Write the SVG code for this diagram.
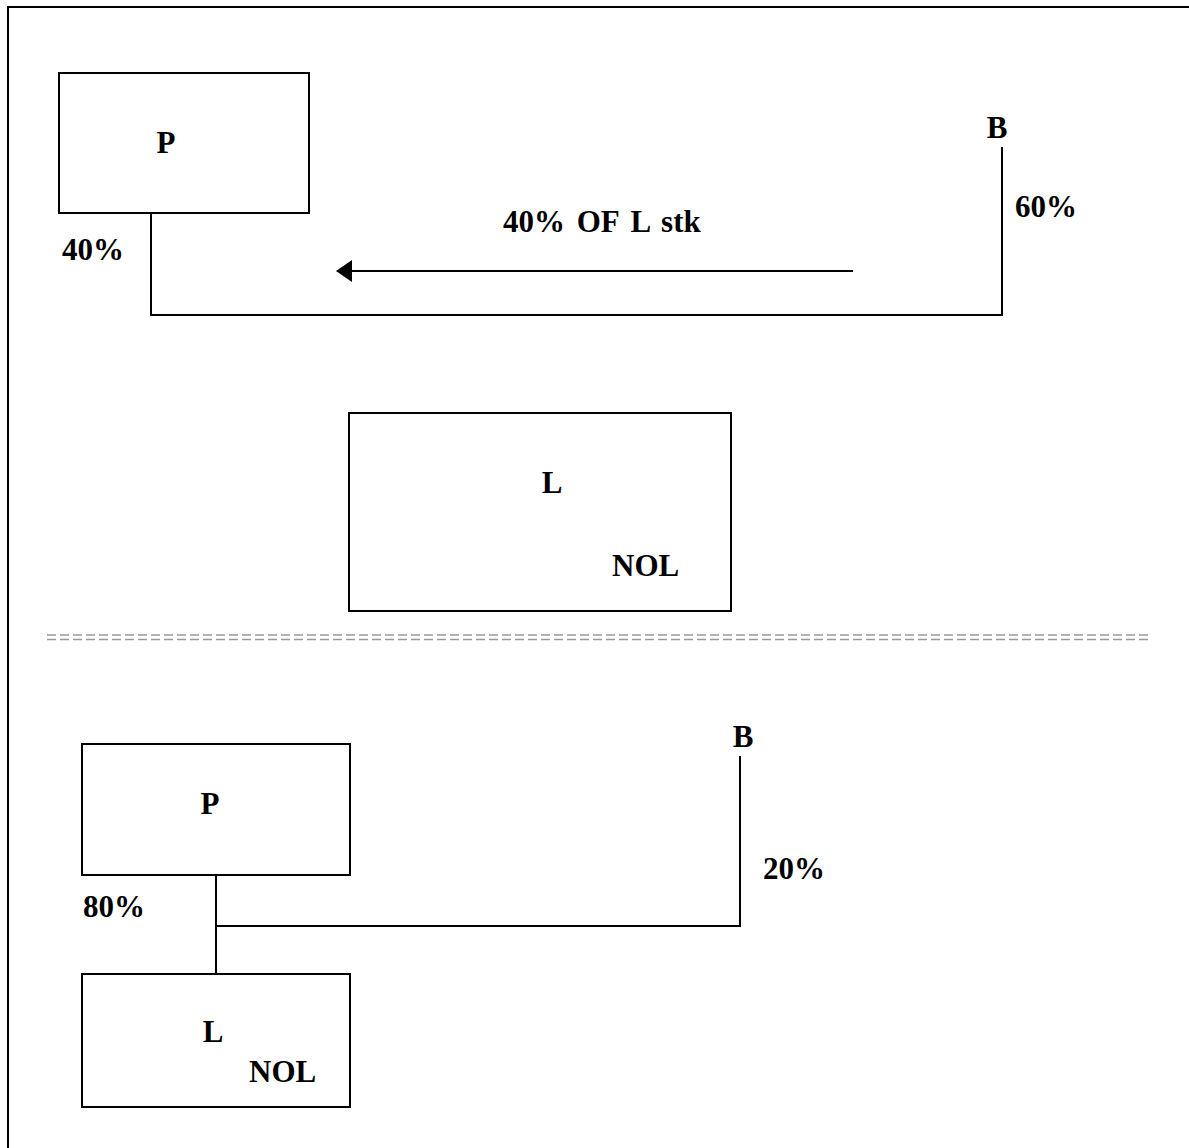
<svg xmlns="http://www.w3.org/2000/svg" width="1189" height="1148" viewBox="0 0 1189 1148">
<defs>
<style>
.box{fill:#fff;stroke:#000;stroke-width:2}
.ln{fill:none;stroke:#000;stroke-width:2}
.t{font-family:"Liberation Serif","Times New Roman",serif;font-weight:bold;font-size:31px;fill:#000}
.sep{stroke:#999;stroke-width:1.6;stroke-dasharray:9 4}
</style>
<marker id="ah" viewBox="0 0 16 22" markerWidth="16" markerHeight="22" refX="15" refY="11" orient="auto" markerUnits="userSpaceOnUse">
<path d="M16,11 L0,0 L0,22 Z" fill="#000"/>
</marker>
</defs>
<rect width="1189" height="1148" fill="#fff"/>
<path d="M8,1148 L8,7 L1189,7" fill="none" stroke="#000" stroke-width="2"/>

<g id="connectors">
<path class="ln" d="M151,213 L151,315 L1002,315 L1002,147"/>
<line class="ln" x1="853" y1="271" x2="337" y2="271" marker-end="url(#ah)"/>
<path class="ln" d="M216,875 L216,974"/>
<path class="ln" d="M216,926 L740,926 L740,756"/>
</g>

<g id="separator">
<line class="sep" x1="47" y1="635" x2="1152" y2="635"/>
<line class="sep" x1="47" y1="639.5" x2="1152" y2="639.5"/>
</g>

<g id="P1">
<rect class="box" x="59" y="73" width="250" height="140"/>
<text class="t" x="166" y="153" text-anchor="middle">P</text>
</g>
<g id="B1">
<text class="t" x="997" y="138" text-anchor="middle">B</text>
</g>
<g id="labels-top">
<text class="t" x="62" y="260">40%</text>
<text class="t" x="1015" y="217">60%</text>
<text class="t" x="503" y="232" word-spacing="4">40% OF L stk</text>
</g>
<g id="L1">
<rect class="box" x="349" y="413" width="382" height="198"/>
<text class="t" x="552" y="493" text-anchor="middle">L</text>
<text class="t" x="612" y="576">NOL</text>
</g>

<g id="P2">
<rect class="box" x="82" y="744" width="268" height="131"/>
<text class="t" x="210" y="814" text-anchor="middle">P</text>
</g>
<g id="B2">
<text class="t" x="743" y="747" text-anchor="middle">B</text>
</g>
<g id="labels-bottom">
<text class="t" x="83" y="917">80%</text>
<text class="t" x="763" y="879">20%</text>
</g>
<g id="L2">
<rect class="box" x="82" y="974" width="268" height="133"/>
<text class="t" x="213" y="1042" text-anchor="middle">L</text>
<text class="t" x="249" y="1082">NOL</text>
</g>
</svg>
